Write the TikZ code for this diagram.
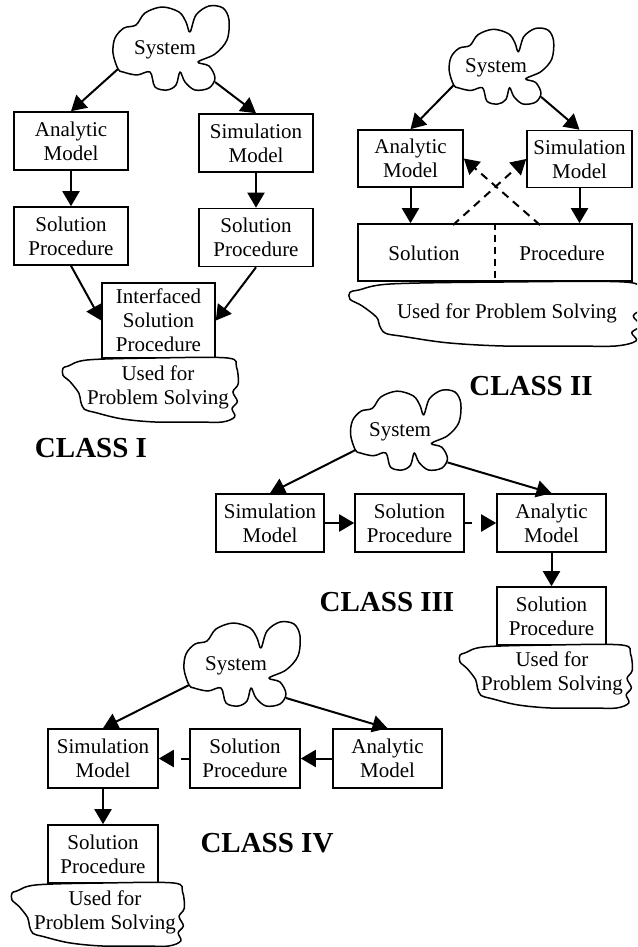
\documentclass[tikz,border=0pt]{standalone}
\usepackage{fontspec}
\setmainfont{Liberation Serif}
\usetikzlibrary{arrows.meta,calc}
\tikzset{
  box/.style={draw,line width=1.6pt,align=center,minimum height=58pt,minimum width=110pt,inner sep=0pt,font=\fontsize{21}{24}\selectfont},
  lbl/.style={align=center,inner sep=0pt,font=\fontsize{21}{24}\selectfont},
  cls/.style={font=\fontsize{29}{32}\selectfont\bfseries,inner sep=0pt},
  arr/.style={line width=2pt,-{Triangle[length=15pt,width=17pt]}},
  darr/.style={arr,dash pattern=on 8pt off 6pt},
  cloudline/.style={line width=1.5pt,line join=round},
}
\newcommand\SysCloud[3]{%
  \begin{scope}[shift={#1},scale=#2]
    \draw[cloudline] plot[smooth cycle,tension=0.55] coordinates{
      (-47,19) (-52,3) (-50,-12) (-41,-22) (-29,-25) (-20,-37) (-3,-43) (14,-38) (21,-28) (25,-18)
      (31,-35) (44,-44) (58,-42) (64,-30) (62,-10) (50,4) (33,12) (44,16) (50,28) (44,38) (30,40)
      (20,32) (15,22) (11,35) (2,40) (-10,37) (-15,22) (-28,25) (-42,22)};
    \coordinate (#3-l) at (-47,19);
    \coordinate (#3-r) at (50,32);
  \end{scope}}
\newcommand\UsedCloud[4]{%
  \begin{scope}[shift={(#1,#2)},xscale=#3,yscale=#4]
    \draw[cloudline,fill=white] plot[smooth cycle,tension=0.55] coordinates{
      (0.03,0.125) (0.14,0.03) (0.52,0.0) (0.93,0.0) (0.98,0.14) (0.99,0.4) (0.96,0.53)
      (0.985,0.68) (0.955,0.79) (0.97,0.92) (0.9,1.0) (0.75,1.0) (0.52,1.0) (0.33,0.95)
      (0.18,0.85) (0.12,0.8) (0.1,0.68) (0.09,0.55) (0.04,0.37) (0.0,0.27) (0.0,0.16)};
  \end{scope}}
\begin{document}
\begin{tikzpicture}[x=1pt,y=-1pt]
\clip (0,0) rectangle (637,947);
\fill[white] (0,0) rectangle (637,947);

% ---------------- CLASS I ----------------
\SysCloud{(165,50)}{1}{c1}
\node[lbl] (sys1) at (165,50) {System};
\node[box,minimum width=114pt] (am1) at (71,141) {Analytic\\Model};
\node[box,minimum width=114pt] (sm1) at (256,143) {Simulation\\Model};
\node[box,minimum width=114pt] (sp1a) at (71,236) {Solution\\Procedure};
\node[box,minimum width=114pt] (sp1b) at (256,237.5) {Solution\\Procedure};
\node[box,minimum width=113pt,minimum height=75pt] (isp1) at (158.5,320.5) {Interfaced\\Solution\\Procedure};
\UsedCloud{63}{358}{177}{64}
\node[lbl] (used1) at (158,387) {Used for\\Problem Solving};
\node[cls] (class1) at (91,448) {CLASS I};
\draw[arr] (c1-l) -- (am1.north);
\draw[arr] (c1-r) -- (sm1.north);
\draw[arr] (am1) -- (sp1a);
\draw[arr] (sm1) -- (sp1b);
\draw[arr] (sp1a.south) -- (isp1.west);
\draw[arr] (sp1b.south) -- (isp1.east);

% ---------------- CLASS II ----------------
\SysCloud{(496,68)}{0.9}{c2}
\node[lbl] (sys2) at (496,68) {System};
\node[box,minimum width=105pt,minimum height=57pt] (am2) at (410.5,158.5) {Analytic\\Model};
\node[box,minimum width=105pt,minimum height=57pt] (sm2) at (579.5,159) {Simulation\\Model};
\node[box,minimum width=274pt,minimum height=57pt] (box2) at (495,252.5) {};
\draw[line width=1.4pt,dash pattern=on 7pt off 5pt] (box2.north) -- (box2.south);
\node[lbl] (sol2) at (424,253) {Solution};
\node[lbl] (proc2) at (562,253) {Procedure};
\UsedCloud{350}{282}{295}{64}
\node[lbl] (used2) at (507,313) {Used for Problem Solving};
\node[cls] (class2) at (531,386) {CLASS II};
\draw[arr] (c2-l) -- (am2.north);
\draw[arr] (c2-r) -- (sm2.north);
\draw[arr] (am2) -- (am2 |- box2.north);
\draw[arr] (sm2) -- (sm2 |- box2.north);
\coordinate (d2a) at (453,225);
\coordinate (d2b) at (540,225);
\draw[darr] (d2a) -- (sm2.west);
\draw[darr] (d2b) -- (am2.east);

% ---------------- CLASS III ----------------
\SysCloud{(400,432)}{0.95}{c3}
\node[lbl] (sys3) at (400,432) {System};
\node[box,minimum width=108pt] (sm3) at (270,523) {Simulation\\Model};
\node[box,minimum width=109pt] (sp3) at (409.5,523) {Solution\\Procedure};
\node[box,minimum width=109pt] (am3) at (551.5,523) {Analytic\\Model};
\node[box,minimum width=109pt] (sp3b) at (551.5,616) {Solution\\Procedure};
\UsedCloud{460}{645}{174}{63}
\node[lbl] (used3) at (552,673) {Used for\\Problem Solving};
\node[cls] (class3) at (387,602) {CLASS III};
\draw[arr] (c3-l) -- (sm3.north);
\draw[arr] (c3-r) -- (am3.north);
\draw[arr] (sm3) -- (sp3);
\draw[arr,dash pattern=on 7pt off 20pt] (sp3) -- (am3);
\draw[arr] (am3) -- (sp3b);

% ---------------- CLASS IV ----------------
\SysCloud{(236,666)}{1}{c4}
\node[lbl] (sys4) at (236,666) {System};
\node[box,minimum width=110pt,minimum height=59pt] (sm4) at (103,758.5) {Simulation\\Model};
\node[box,minimum width=110pt,minimum height=59pt] (sp4) at (245,758.5) {Solution\\Procedure};
\node[box,minimum width=109pt,minimum height=59pt] (am4) at (387.5,758.5) {Analytic\\Model};
\node[box,minimum width=110pt] (sp4b) at (103,854) {Solution\\Procedure};
\UsedCloud{12}{883}{174}{63}
\node[lbl] (used4) at (105,912) {Used for\\Problem Solving};
\node[cls] (class4) at (267,843) {CLASS IV};
\draw[arr] (c4-l) -- (sm4.north);
\draw[arr] (c4-r) -- (am4.north);
\draw[arr] (am4) -- (sp4);
\draw[arr,dash pattern=on 8pt off 20pt] (sp4) -- (sm4);
\draw[arr] (sm4) -- (sp4b);
\end{tikzpicture}
\end{document}
